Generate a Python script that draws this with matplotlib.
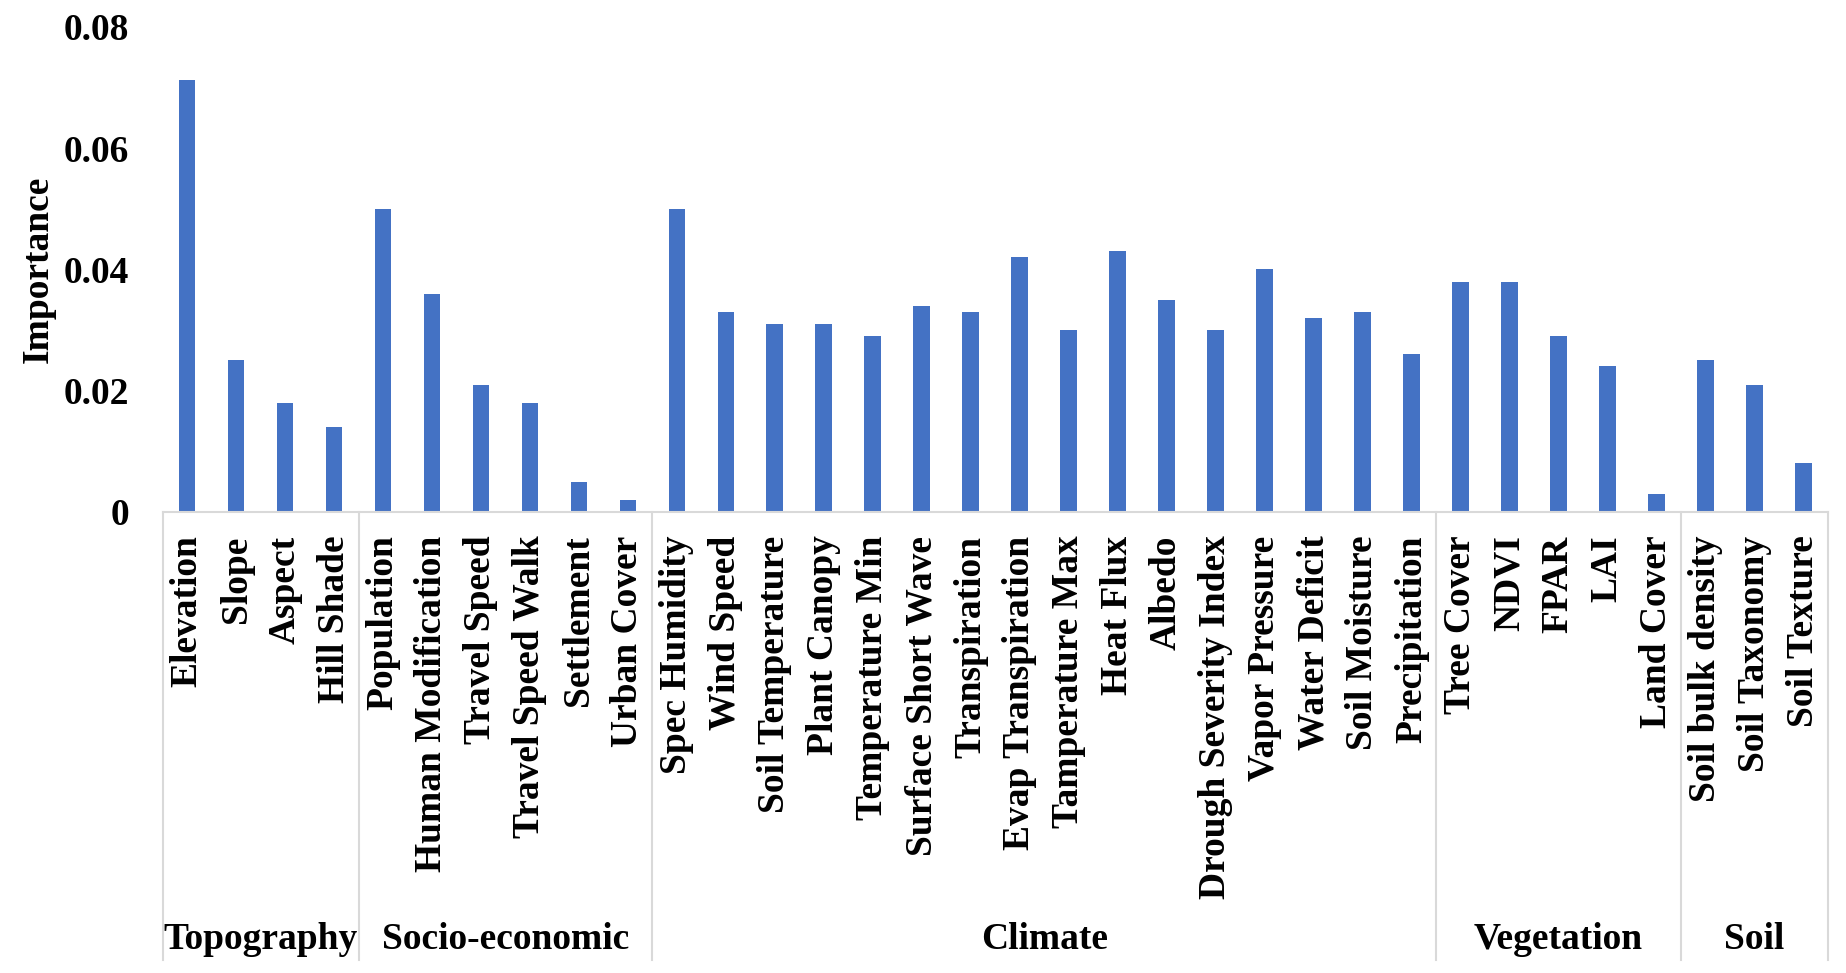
import matplotlib
matplotlib.use("Agg")
import matplotlib.pyplot as plt
import matplotlib.transforms as mtransforms
import numpy as np

features = ["Elevation", "Slope", "Aspect", "Hill Shade",
            "Population", "Human Modification", "Travel Speed", "Travel Speed Walk",
            "Settlement", "Urban Cover",
            "Spec Humidity", "Wind Speed", "Soil Temperature", "Plant Canopy",
            "Temperature Min", "Surface Short Wave", "Transpiration", "Evap Transpiration",
            "Tamperature Max", "Heat Flux", "Albedo", "Drough Severity Index",
            "Vapor Pressure", "Water Deficit", "Soil Moisture", "Precipitation",
            "Tree Cover", "NDVI", "FPAR", "LAI", "Land Cover",
            "Soil bulk density", "Soil Taxonomy", "Soil Texture"]
importance = [0.0712, 0.025, 0.018, 0.014,
              0.050, 0.036, 0.021, 0.018, 0.005, 0.002,
              0.050, 0.033, 0.031, 0.031, 0.029, 0.034, 0.033, 0.042,
              0.030, 0.043, 0.035, 0.030, 0.040, 0.032, 0.033, 0.026,
              0.038, 0.038, 0.029, 0.024, 0.003,
              0.025, 0.021, 0.008]
groups = ["Topography", "Socio-economic", "Climate", "Vegetation", "Soil"]
group_sizes = [4, 6, 16, 5, 3]
yticks = [0, 0.02, 0.04, 0.06, 0.08]
ytick_labels = ["0", "0.02", "0.04", "0.06", "0.08"]

plt.rcParams['font.family'] = ['Liberation Serif', 'DejaVu Serif']
plt.rcParams['font.weight'] = 'bold'

fig = plt.figure(figsize=(18.46, 9.73), dpi=100)
ax = fig.add_axes([0.0881, 0.4738, 0.9020, 0.4985])

x = np.arange(len(features))
ax.bar(x, importance, width=0.34, color="#4472C4", zorder=2)

ax.set_xlim(-0.5, len(features) - 0.5)
ax.set_ylim(0, 0.08)
ax.set_yticks(yticks)
ax.set_yticklabels(ytick_labels, fontsize=27, fontweight='bold')
ax.set_xticks(x)
ax.set_xticklabels(features, rotation=90, fontsize=27, fontweight='bold',
                   ha='center', va='top')
ax.tick_params(axis='y', length=0, pad=24)
ax.tick_params(axis='x', length=0, pad=17)

for s in ['top', 'right', 'left']:
    ax.spines[s].set_visible(False)
ax.spines['bottom'].set_color('#D9D9D9')
ax.spines['bottom'].set_linewidth(1.5)

ax.set_ylabel("Importance", fontsize=27, fontweight='bold', labelpad=6)

trans = mtransforms.blended_transform_factory(ax.transData, ax.transAxes)
bounds = np.concatenate([[0], np.cumsum(group_sizes)]) - 0.5
for b in bounds:
    ax.plot([b, b], [0, -0.924], transform=trans, color='#D9D9D9',
            linewidth=1.5, clip_on=False, zorder=1)
for g, lo, hi in zip(groups, bounds[:-1], bounds[1:]):
    ax.text((lo + hi) / 2, -0.882, g, transform=trans, ha='center', va='center',
            fontsize=27, fontweight='bold')

fig.savefig("out.png", dpi=100, facecolor='white')
